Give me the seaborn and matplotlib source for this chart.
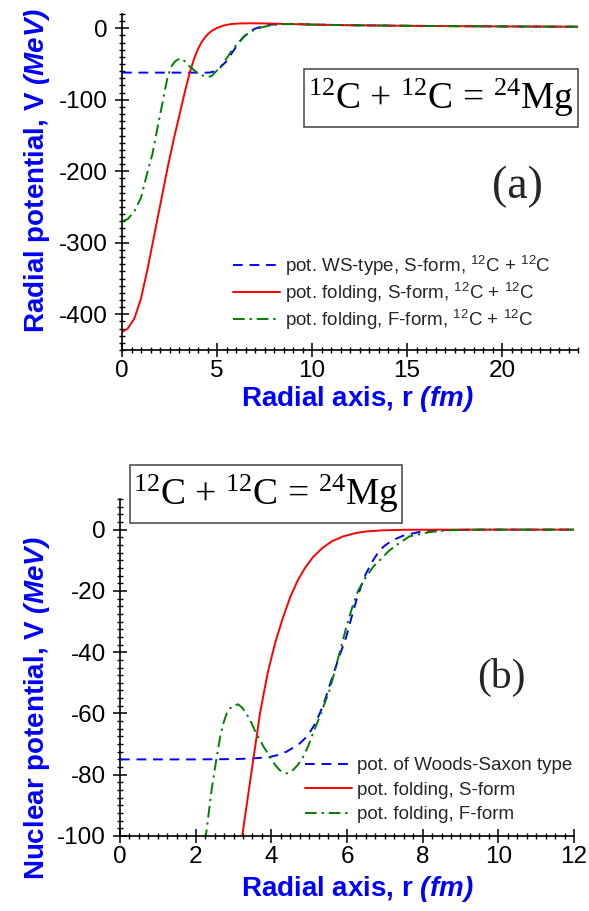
import matplotlib
matplotlib.use("Agg")
import matplotlib.pyplot as plt
from matplotlib.ticker import MultipleLocator
from matplotlib.patches import Rectangle
import seaborn as sns

# ---------------- data ----------------
# panel (a): total potentials (with Coulomb), r in fm, V in MeV
a_ws_r = [0, 1, 2, 3, 4, 4.6, 4.9, 5.2, 5.5, 5.8, 6.1, 6.4, 6.7, 7.0, 7.4, 7.8, 8.3, 9, 10, 12, 15, 18, 21, 24]
a_ws_v = [-62, -62, -62, -62, -62, -62, -60, -54, -46, -34, -22, -12, -5, -0.5, 3, 5, 6, 6, 5.2, 4.3, 3.5, 2.9, 2.5, 2.2]

a_fs_r = [0, 0.3, 0.65, 1.0, 1.35, 1.7, 2.05, 2.4, 2.75, 3.0, 3.2, 3.4, 3.6, 3.8, 4.0, 4.2, 4.45, 4.7, 5.0, 5.3,
          5.7, 6.2, 6.8, 7.5, 8.5, 10, 12, 15, 18, 21, 24]
a_fs_v = [-425, -420, -406, -378, -336, -289, -242, -195, -152, -124, -101, -79, -59, -42, -29, -19, -10, -4, 0.5, 3.5,
          5.8, 6.8, 7.0, 6.8, 6.1, 5.2, 4.3, 3.5, 2.9, 2.5, 2.2]

a_ff_r = [0, 0.3, 0.65, 1.0, 1.35, 1.6, 1.87, 2.05, 2.25, 2.4, 2.58, 2.8, 3.0, 3.1, 3.3, 3.5, 3.9, 4.2, 4.5, 4.7, 5.0,
          5.3, 5.56, 5.8, 6.1, 6.4, 6.7, 6.95, 7.3, 7.7, 8.2, 9, 10, 12, 15, 18, 21, 24]
a_ff_v = [-270, -267, -256, -237, -200, -176, -139, -115, -88, -68, -54, -46, -43, -42, -46, -52, -61, -65.5, -68, -67,
          -59, -50, -40, -30, -21, -12, -6, -2.5, 1, 3.5, 5.5, 6, 5.2, 4.3, 3.5, 2.9, 2.5, 2.2]

# panel (b): nuclear potentials
b_ws_r = [0, 1, 2, 3, 3.5, 3.96, 4.2, 4.4, 4.6, 4.75, 4.9, 5.0, 5.15, 5.28, 5.4, 5.5, 5.75, 5.98, 6.1, 6.25, 6.4, 6.5,
          6.7, 6.86, 7.0, 7.2, 7.5, 7.9, 8.44, 9, 10, 11, 12]
b_ws_v = [-75, -75, -75, -74.9, -74.7, -74.2, -73.5, -72.5, -71, -69.8, -68, -66.5, -63.5, -60, -56.3, -52.4, -43, -35,
          -29.5, -23, -17.5, -14.4, -9.8, -6.8, -5.2, -3.5, -1.9, -0.8, -0.2, -0.05, 0, 0, 0]

b_fs_r = [3.0, 3.23, 3.5, 3.7, 3.9, 4.1, 4.3, 4.5, 4.7, 4.9, 5.1, 5.35, 5.6, 5.9, 6.2, 6.5, 6.9, 7.5, 8.5, 12]
b_fs_v = [-122, -100, -77, -60, -47, -37, -29, -22, -16.5, -12.3, -9, -6, -3.8, -2.2, -1.2, -0.6, -0.25, -0.05, 0, 0]

b_ff_r = [2.1, 2.27, 2.42, 2.55, 2.65, 2.73, 2.82, 2.9, 3.0, 3.12, 3.22, 3.34, 3.47, 3.6, 3.78, 3.96, 4.1, 4.22, 4.4,
          4.57, 4.7, 4.84, 4.97, 5.1, 5.28, 5.4, 5.54, 5.7, 5.85, 6.0, 6.16, 6.3, 6.5, 6.7, 6.95, 7.1, 7.3, 7.65, 8.18,
          8.7, 9.5, 12]
b_ff_v = [-125, -100, -85, -74.7, -67.5, -63.3, -60, -58.4, -57.5, -57, -58, -60, -63, -66.5, -70.5, -74.2, -76.8,
          -78.5, -79.6, -78.5, -76.8, -74.2, -70.8, -66.5, -61, -57, -52.4, -45, -38, -31, -24.5, -19.8, -15.5, -12,
          -9, -7, -5.1, -2.2, -0.8, -0.2, 0, 0]

a_labels = ["pot. WS-type, S-form, $^{12}$C + $^{12}$C",
            "pot. folding, S-form, $^{12}$C + $^{12}$C",
            "pot. folding, F-form, $^{12}$C + $^{12}$C"]
b_labels = ["pot. of Woods-Saxon type", "pot. folding, S-form", "pot. folding, F-form"]
a_xticks = [0, 5, 10, 15, 20]
a_yticks = [0, -100, -200, -300, -400]
b_xticks = [0, 2, 4, 6, 8, 10, 12]
b_yticks = [0, -20, -40, -60, -80, -100]
reaction = "$^{12}$C + $^{12}$C = $^{24}$Mg"

# ---------------- style ----------------
sns.set_theme(style="ticks")
plt.rcParams["font.family"] = ["Liberation Sans", "DejaVu Sans"]
plt.rcParams["axes.unicode_minus"] = False
plt.rcParams["mathtext.default"] = "regular"
plt.rcParams["mathtext.fontset"] = "custom"
plt.rcParams["mathtext.bfit"] = "Liberation Sans:bold:italic"
plt.rcParams["mathtext.rm"] = "Liberation Sans"
plt.rcParams["mathtext.it"] = "Liberation Sans:italic"
plt.rcParams["mathtext.bf"] = "Liberation Sans:bold"

BLUE = "#0000ff"
RED = "#ff0000"
GREEN = "#008000"
W, H = 589, 911

fig = plt.figure(figsize=(W / 100, H / 100), dpi=100)
fig.patch.set_facecolor("white")


def ax_rect(x0, y0, x1, y1):
    return [x0 / W, 1 - y1 / H, (x1 - x0) / W, (y1 - y0) / H]


ax1 = fig.add_axes(ax_rect(122, 14, 578, 350))
ax2 = fig.add_axes(ax_rect(120, 499, 574, 836))

styles = [dict(color=BLUE, linestyle=(0, (5, 3.5))),
          dict(color=RED, linestyle="-"),
          dict(color=GREEN, linestyle=(0, (6, 2.5, 1.2, 2.5)))]

for (r, v), lab, st in zip([(a_ws_r, a_ws_v), (a_fs_r, a_fs_v), (a_ff_r, a_ff_v)], a_labels, styles):
    sns.lineplot(x=r, y=v, ax=ax1, label=lab, linewidth=1.4, **st)
for (r, v), lab, st in zip([(b_ws_r, b_ws_v), (b_fs_r, b_fs_v), (b_ff_r, b_ff_v)], b_labels, styles):
    sns.lineplot(x=r, y=v, ax=ax2, label=lab, linewidth=1.4, **st)

for ax in (ax1, ax2):
    ax.set_facecolor("white")
    ax.spines["top"].set_visible(False)
    ax.spines["right"].set_visible(False)
    for s in ("left", "bottom"):
        ax.spines[s].set_linewidth(1.2)
        ax.spines[s].set_color("black")
    ax.tick_params(which="major", direction="inout", length=10, width=1.1, labelsize=17.5,
                   colors="black")
    ax.tick_params(which="minor", direction="inout", length=5, width=1.0, colors="black")
    ax.tick_params(axis="y", which="major", pad=5)
    ax.tick_params(axis="x", which="major", pad=2)
    ax.set_xlabel("")
    ax.set_ylabel("")

ax1.set_xlim(0, 24)
ax1.set_ylim(-450, 20)
ax1.set_xticks(a_xticks)
ax1.set_yticks(a_yticks)
ax1.xaxis.set_minor_locator(MultipleLocator(0.5))
ax1.yaxis.set_minor_locator(MultipleLocator(10))

ax2.set_xlim(0, 12)
ax2.set_ylim(-100, 10)
ax2.set_xticks(b_xticks)
ax2.set_yticks(b_yticks)
ax2.xaxis.set_minor_locator(MultipleLocator(0.25))
ax2.yaxis.set_minor_locator(MultipleLocator(2.5))

leg1 = ax1.legend(loc="upper left", bbox_to_anchor=(0.243, 0.286), frameon=False, fontsize=13.5,
                  handlelength=2.5, handletextpad=0.3, labelspacing=0.15, borderpad=0, borderaxespad=0)
leg2 = ax2.legend(loc="upper left", bbox_to_anchor=(0.407, 0.234), frameon=False, fontsize=13.5,
                  handlelength=2.5, handletextpad=0.3, labelspacing=0.39, borderpad=0, borderaxespad=0)

# boxes with the reaction
for (x0, y0, x1, y1) in [(304, 69, 578, 127), (130, 465, 402, 523)]:
    fig.patches.append(Rectangle((x0 / W, 1 - y1 / H), (x1 - x0) / W, (y1 - y0) / H,
                                 transform=fig.transFigure, fill=True, facecolor="white",
                                 edgecolor="#444444", linewidth=1.1, zorder=5))
    fig.text((x0 + x1) / 2 / W, 1 - (y0 + y1) / 2 / H, reaction, ha="center", va="center",
             fontsize=27, family="Liberation Serif", color="black", zorder=6)

ax1.text(20.8, -222, "(a)", ha="center", va="center", fontsize=33, family="Liberation Serif")
ax2.text(10.08, -48.2, "(b)", ha="center", va="center", fontsize=30, family="Liberation Serif")

# axis labels
fig.text(357 / W, 1 - 399 / H, r"Radial axis, r $\mathbfit{(fm)}$", ha="center", va="center",
         fontsize=20, fontweight="bold", color=BLUE)
fig.text(357 / W, 1 - 889 / H, r"Radial axis, r $\mathbfit{(fm)}$", ha="center", va="center",
         fontsize=20, fontweight="bold", color=BLUE)
fig.text(37 / W, 1 - 171 / H, r"Radial potential, V $\mathbfit{(MeV)}$", ha="center", va="center",
         rotation=90, fontsize=20, fontweight="bold", color=BLUE)
fig.text(37 / W, 1 - 708 / H, r"Nuclear potential, V $\mathbfit{(MeV)}$", ha="center", va="center",
         rotation=90, fontsize=20, fontweight="bold", color=BLUE)

fig.savefig("out.png", dpi=100, facecolor="white")
